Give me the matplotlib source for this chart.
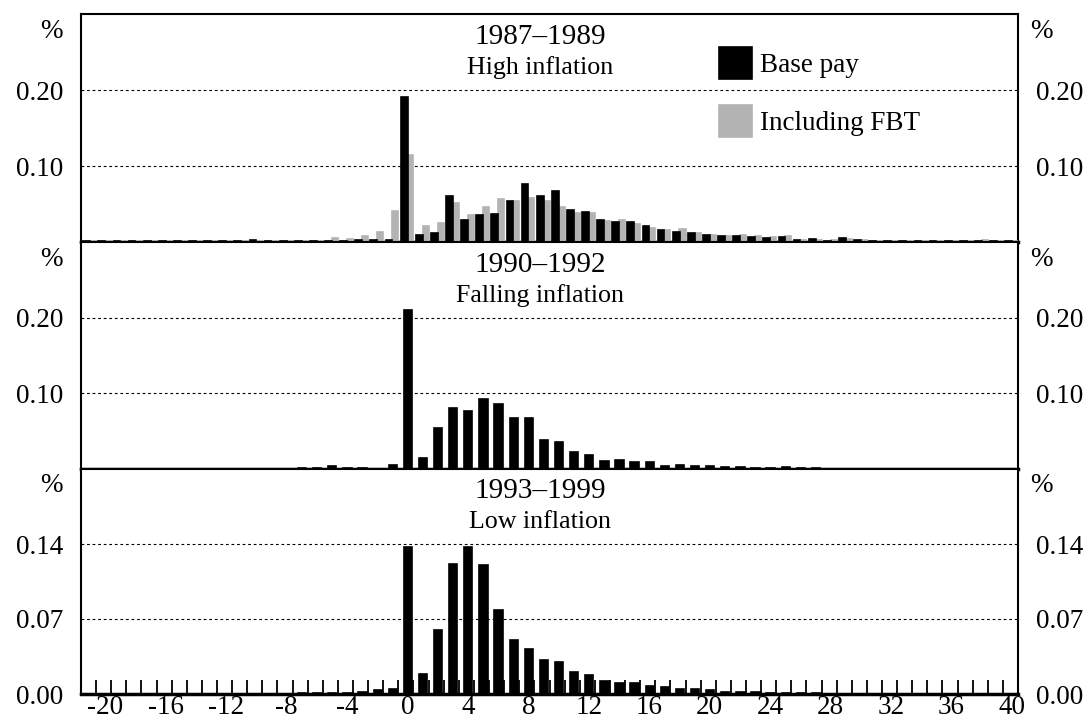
import numpy as np
import matplotlib
matplotlib.use("Agg")
import matplotlib.pyplot as plt
from matplotlib.ticker import FixedLocator

plt.rcParams['font.family'] = ['Liberation Serif', 'DejaVu Serif']

# wage change bins (per cent), -21 .. 40
bins = np.arange(-21, 41)

# 1987-1989, high inflation
base_8789 = [0.001, 0.001, 0.001, 0.001, 0.001, 0.001, 0.001, 0.001, 0.001, 0.001,
             0.001, 0.002, 0.001, 0.001, 0.001, 0.001, 0.001, 0.001, 0.003, 0.003,
             0.003, 0.191, 0.009, 0.012, 0.0605, 0.029, 0.0355, 0.037, 0.054, 0.076,
             0.0605, 0.067, 0.042, 0.039, 0.029, 0.026, 0.026, 0.021, 0.016, 0.013,
             0.012, 0.009, 0.008, 0.008, 0.0066, 0.005, 0.0066, 0.0026, 0.004, 0.0013,
             0.005, 0.0026, 0.0013, 0.001, 0.001, 0.001, 0.001, 0.001, 0.001, 0.001,
             0.001, 0.001]
fbt_8789 = [0.001, 0.001, 0.001, 0.001, 0.001, 0.001, 0.001, 0.001, 0.001, 0.001,
            0.001, 0.001, 0.001, 0.001, 0.001, 0.001, 0.005, 0.004, 0.008, 0.0136,
            0.041, 0.1145, 0.021, 0.025, 0.051, 0.0355, 0.046, 0.0566, 0.054, 0.058,
            0.054, 0.046, 0.038, 0.038, 0.0276, 0.029, 0.0237, 0.018, 0.016, 0.017,
            0.012, 0.009, 0.008, 0.009, 0.008, 0.0066, 0.008, 0.0026, 0.003, 0.0026,
            0.004, 0.0026, 0.0013, 0.001, 0.001, 0.001, 0.001, 0.001, 0.001, 0.002,
            0.001, 0.001]

# 1990-1992, falling inflation
base_9092 = [0.0005, 0.0005, 0.0005, 0.0005, 0.0005, 0.0005, 0.0005, 0.0005, 0.0005, 0.0005,
             -0.001, -0.001, 0.0005, -0.001, 0.001, 0.001, 0.004, 0.001, 0.001, -0.001,
             0.005, 0.2105, 0.0145, 0.054, 0.080, 0.076, 0.092, 0.0855, 0.067, 0.067,
             0.038, 0.0355, 0.022, 0.018, 0.0105, 0.012, 0.009, 0.009, 0.004, 0.005,
             0.004, 0.004, 0.002, 0.0026, 0.0013, 0.0013, 0.0026, 0.0013, 0.0013, 0.0005,
             0.0005, 0.0005, 0.0005, 0.0005, -0.001, 0.0005, 0.0005, -0.001, 0.0005, 0.0005,
             0.0005, -0.001]

# 1993-1999, low inflation
base_9399 = [0.0003, 0.0003, 0.0003, 0.0003, 0.0003, 0.0003, 0.0003, 0.0003, 0.0003, 0.0003,
             0.0003, 0.0003, 0.0003, 0.0003, 0.0005, 0.0009, 0.0009, 0.0009, 0.0019, 0.0037,
             0.0047, 0.1369, 0.0187, 0.0597, 0.1213, 0.1369, 0.1204, 0.0784, 0.0504, 0.042,
             0.0317, 0.0299, 0.0205, 0.0177, 0.0121, 0.0103, 0.0103, 0.0075, 0.0065, 0.0047,
             0.0047, 0.0037, 0.0019, 0.0019, 0.0019, 0.0009, 0.0009, 0.0009, 0.0009, 0.0003,
             0.0003, 0.0003, 0.0003, 0.0003, 0.0003, 0.0003, 0.0003, 0.0003, 0.0003, 0.0003,
             0.0003, 0.0003]

titles = [("1987–1989", "High inflation"),
          ("1990–1992", "Falling inflation"),
          ("1993–1999", "Low inflation")]
yticks = [[0.10, 0.20], [0.10, 0.20], [0.00, 0.07, 0.14]]
ylims = [0.30, 0.30, 0.21]
xticks = list(range(-20, 41, 4))

GREY = '#b3b3b3'
FS = 19.5

W, H = 1092, 722
fig = plt.figure(figsize=(W / 100, H / 100), dpi=100)
left, right = 81 / W, 1018 / W
rows = [(14, 242), (242, 469), (469, 694)]
axes = []
for top_px, bot_px in rows:
    ax = fig.add_axes([left, 1 - bot_px / H, right - left, (bot_px - top_px) / H])
    axes.append(ax)

for i, ax in enumerate(axes):
    ax.set_xlim(-21.6, 40.4)
    ax.set_ylim(0, ylims[i])
    ax.set_yticks(yticks[i])
    ax.set_yticklabels([f"{v:.2f}" for v in yticks[i]])
    ax.tick_params(axis='y', length=0, labelleft=True, labelright=True,
                   labelsize=FS, pad=13)
    for v in yticks[i]:
        if v > 0:
            ax.axhline(v, color='black', lw=0.8, ls=(0, (2.5, 2.5)), zorder=0)
    for s in ax.spines.values():
        s.set_linewidth(1.5)
    ax.spines['bottom'].set_linewidth(2.5)
    # % markers above the tick labels
    ax.text(-0.02, 0.925, "%", transform=ax.transAxes, ha='right', va='center',
            fontsize=FS)
    ax.text(1.013, 0.925, "%", transform=ax.transAxes, ha='left', va='center',
            fontsize=FS)
    ax.text(0.49, 0.9, titles[i][0], transform=ax.transAxes, ha='center',
            va='center', fontsize=21)
    ax.text(0.49, 0.765, titles[i][1], transform=ax.transAxes, ha='center',
            va='center', fontsize=18.7)
    if i < 2:
        ax.tick_params(axis='x', which='both', length=0, labelbottom=False)

# top panel: paired bars
ax = axes[0]
ax.bar(bins + 0.2, fbt_8789, width=0.4, color=GREY, edgecolor=GREY, lw=1.2,
       label="Including FBT", zorder=3)
ax.bar(bins - 0.22, base_8789, width=0.45, color='black', edgecolor='black', lw=1.2,
       label="Base pay", zorder=3)
h, l = ax.get_legend_handles_labels()
ax.legend(h[::-1], l[::-1], loc='upper left', bbox_to_anchor=(719 / W, 1 - 47 / H),
          bbox_transform=fig.transFigure, frameon=False, fontsize=FS,
          handlelength=1.22, handleheight=1.45, handletextpad=0.3,
          labelspacing=0.95, borderpad=0, borderaxespad=0)

axes[1].bar(bins + 0.03, base_9092, width=0.55, color='black', edgecolor='black',
            lw=1.2, zorder=3)
axes[2].bar(bins + 0.03, base_9399, width=0.55, color='black', edgecolor='black',
            lw=1.2, zorder=3)

ax = axes[2]
ax.xaxis.set_major_locator(FixedLocator(xticks))
ax.set_xticklabels([str(t) for t in xticks])
ax.xaxis.set_minor_locator(FixedLocator(bins + 0.4))
ax.tick_params(axis='x', which='major', length=0, labelsize=FS, pad=0.5)
ax.tick_params(axis='x', which='minor', direction='in', length=10, width=1.3,
               color='black')

fig.savefig("out.png", dpi=100)
